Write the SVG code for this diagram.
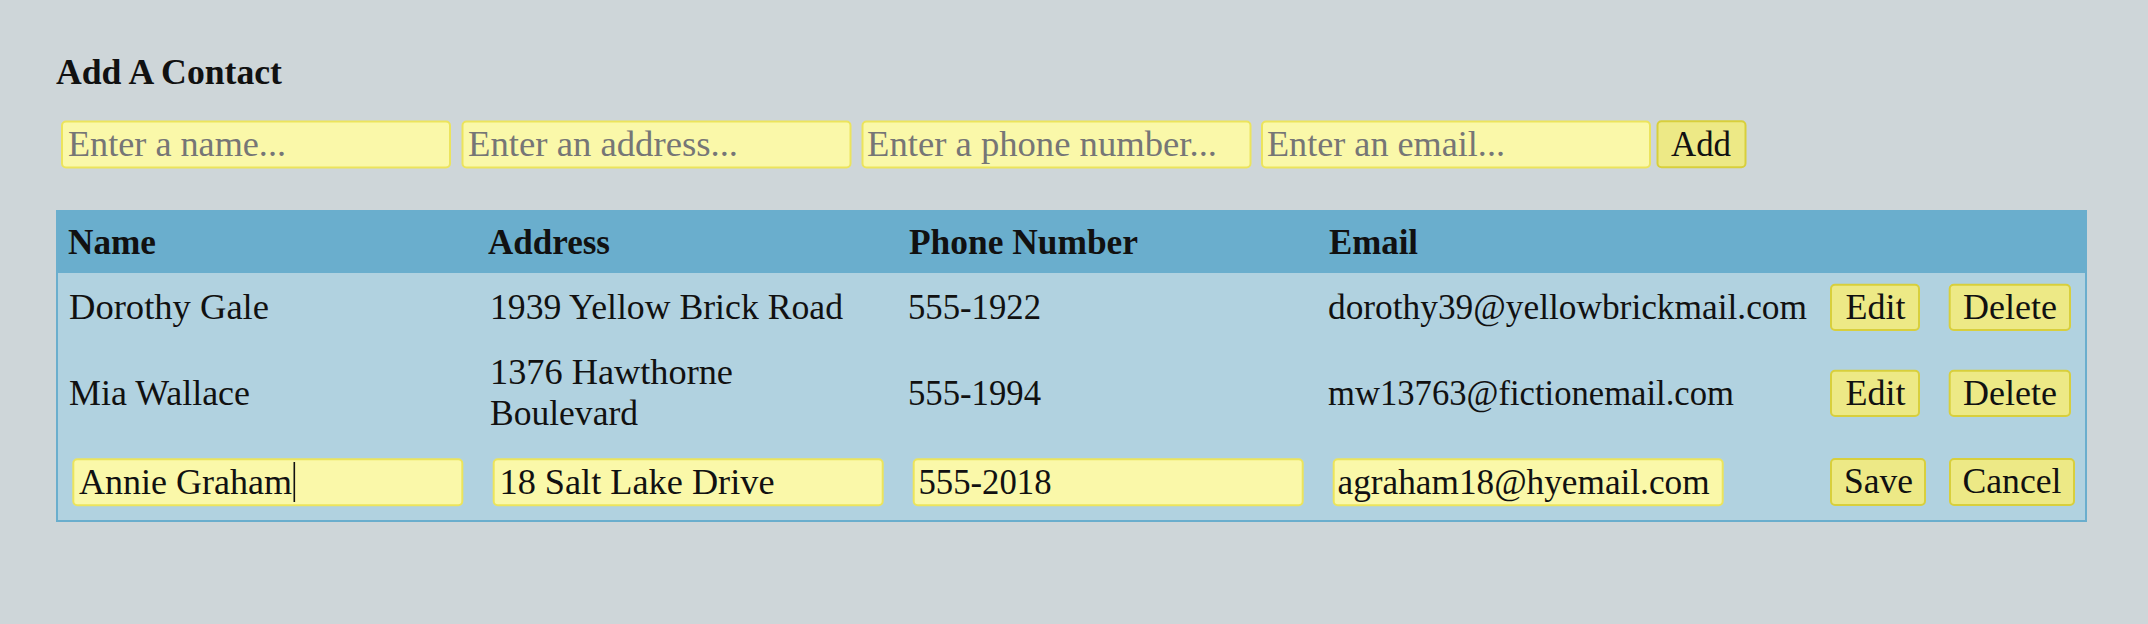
<svg xmlns="http://www.w3.org/2000/svg" width="2148" height="624" viewBox="0 0 2148 624">
<style>
text{font-family:"Liberation Serif","Times New Roman",serif;font-size:35px;fill:#111}
.b{font-weight:bold}
.ph{fill:#767676}
.inp{fill:#faf8a9;stroke:#ece45c;stroke-width:2}
.btn{fill:#ede986;stroke:#d8cf3c;stroke-width:2}
.mid{text-anchor:middle}
</style>
<rect x="0" y="0" width="2148" height="624" fill="#ced6d9"/>
<g id="title"><text class="b" x="56" y="84" textLength="226" lengthAdjust="spacingAndGlyphs">Add A Contact</text></g>
<g id="add-form">
<g id="in-name"><rect class="inp" x="62" y="121.5" width="388" height="46" rx="4"/><text class="ph" x="68" y="156" textLength="218" lengthAdjust="spacingAndGlyphs">Enter a name...</text></g>
<g id="in-address"><rect class="inp" x="462.5" y="121.5" width="388" height="46" rx="4"/><text class="ph" x="468" y="156" textLength="270" lengthAdjust="spacingAndGlyphs">Enter an address...</text></g>
<g id="in-phone"><rect class="inp" x="862.5" y="121.5" width="388" height="46" rx="4"/><text class="ph" x="867" y="156" textLength="350" lengthAdjust="spacingAndGlyphs">Enter a phone number...</text></g>
<g id="in-email"><rect class="inp" x="1262" y="121.5" width="388" height="46" rx="4"/><text class="ph" x="1267" y="156" textLength="238" lengthAdjust="spacingAndGlyphs">Enter an email...</text></g>
<g id="btn-add"><rect class="btn" x="1657.5" y="121.3" width="88" height="46" rx="4"/><text class="mid" x="1701" y="156" textLength="60" lengthAdjust="spacingAndGlyphs">Add</text></g>
</g>
<g id="table">
<rect x="57" y="211" width="2029" height="310" fill="#b1d2e0" stroke="#6aaecd" stroke-width="2"/>
<rect x="56" y="210" width="2031" height="63" fill="#6aaecd"/>
<g id="header">
<text class="b" x="68" y="254" textLength="88" lengthAdjust="spacingAndGlyphs">Name</text>
<text class="b" x="488" y="254" textLength="122" lengthAdjust="spacingAndGlyphs">Address</text>
<text class="b" x="909" y="254" textLength="229" lengthAdjust="spacingAndGlyphs">Phone Number</text>
<text class="b" x="1329" y="254" textLength="89" lengthAdjust="spacingAndGlyphs">Email</text>
</g>
<g id="row1">
<text x="69" y="319" textLength="200" lengthAdjust="spacingAndGlyphs">Dorothy Gale</text>
<text x="490" y="319" textLength="353" lengthAdjust="spacingAndGlyphs">1939 Yellow Brick Road</text>
<text x="908" y="319" textLength="133" lengthAdjust="spacingAndGlyphs">555-1922</text>
<text x="1328" y="319" textLength="479" lengthAdjust="spacingAndGlyphs">dorothy39@yellowbrickmail.com</text>
<g id="r1-edit"><rect class="btn" x="1831" y="284.7" width="88" height="45.3" rx="4"/><text class="mid" x="1875.5" y="318.5" textLength="60" lengthAdjust="spacingAndGlyphs">Edit</text></g>
<g id="r1-delete"><rect class="btn" x="1949.7" y="284.7" width="120.3" height="45.3" rx="4"/><text class="mid" x="2010" y="318.5" textLength="94" lengthAdjust="spacingAndGlyphs">Delete</text></g>
</g>
<g id="row2">
<text x="69" y="405" textLength="181" lengthAdjust="spacingAndGlyphs">Mia Wallace</text>
<text x="490" y="384" textLength="243" lengthAdjust="spacingAndGlyphs">1376 Hawthorne</text>
<text x="490" y="425" textLength="148" lengthAdjust="spacingAndGlyphs">Boulevard</text>
<text x="908" y="405" textLength="133" lengthAdjust="spacingAndGlyphs">555-1994</text>
<text x="1328" y="405" textLength="406" lengthAdjust="spacingAndGlyphs">mw13763@fictionemail.com</text>
<g id="r2-edit"><rect class="btn" x="1831" y="370.7" width="88" height="45.3" rx="4"/><text class="mid" x="1875.5" y="404.5" textLength="60" lengthAdjust="spacingAndGlyphs">Edit</text></g>
<g id="r2-delete"><rect class="btn" x="1949.7" y="370.7" width="120.3" height="45.3" rx="4"/><text class="mid" x="2010" y="404.5" textLength="94" lengthAdjust="spacingAndGlyphs">Delete</text></g>
</g>
<g id="row3">
<g id="e-name"><rect class="inp" x="73.3" y="459.3" width="389" height="46" rx="4"/><text x="79" y="494" textLength="213" lengthAdjust="spacingAndGlyphs">Annie Graham</text><rect x="293.5" y="462" width="1.6" height="40" fill="#111"/></g>
<g id="e-address"><rect class="inp" x="493.7" y="459.3" width="389" height="46" rx="4"/><text x="499.5" y="494" textLength="275" lengthAdjust="spacingAndGlyphs">18 Salt Lake Drive</text></g>
<g id="e-phone"><rect class="inp" x="913.7" y="459.3" width="389" height="46" rx="4"/><text x="918.5" y="494" textLength="133" lengthAdjust="spacingAndGlyphs">555-2018</text></g>
<g id="e-email"><rect class="inp" x="1333.7" y="459.3" width="389" height="46" rx="4"/><text x="1337.6" y="494" textLength="372" lengthAdjust="spacingAndGlyphs">agraham18@hyemail.com</text></g>
<g id="r3-save"><rect class="btn" x="1831" y="459" width="94" height="46" rx="4"/><text class="mid" x="1878.5" y="493" textLength="69" lengthAdjust="spacingAndGlyphs">Save</text></g>
<g id="r3-cancel"><rect class="btn" x="1950" y="459" width="124" height="46" rx="4"/><text class="mid" x="2012" y="493" textLength="99" lengthAdjust="spacingAndGlyphs">Cancel</text></g>
</g>
</g>
<g id="connectors"/>
</svg>
